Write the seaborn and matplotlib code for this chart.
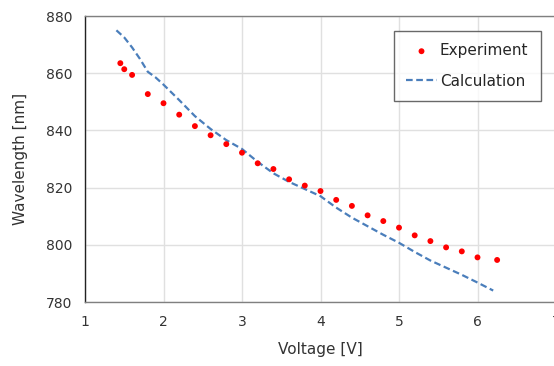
import matplotlib
matplotlib.use("Agg")
import matplotlib.pyplot as plt
import seaborn as sns
import pandas as pd

exp_voltage = [1.45, 1.5, 1.6, 1.8, 2.0, 2.2, 2.4, 2.6, 2.8, 3.0, 3.2, 3.4, 3.6, 3.8,
               4.0, 4.2, 4.4, 4.6, 4.8, 5.0, 5.2, 5.4, 5.6, 5.8, 6.0, 6.25]
exp_wavelength = [863.5, 861.4, 859.4, 852.7, 849.5, 845.5, 841.5, 838.3, 835.2, 832.2,
                  828.5, 826.5, 822.9, 820.7, 818.8, 815.7, 813.6, 810.3, 808.3, 806.0,
                  803.3, 801.3, 799.1, 797.7, 795.6, 794.7]

calc_voltage = [1.4, 1.5, 1.6, 1.7, 1.8, 1.9, 2.0, 2.2, 2.4, 2.6, 2.8, 3.0, 3.2, 3.4,
                3.6, 3.8, 4.0, 4.2, 4.4, 4.6, 4.8, 5.0, 5.2, 5.4, 5.6, 5.8, 6.0, 6.2]
calc_wavelength = [875.0, 872.5, 869.0, 865.0, 860.5, 858.5, 856.0, 850.6, 845.0, 840.5,
                   836.6, 833.5, 829.0, 825.0, 822.0, 819.5, 817.0, 813.0, 809.5, 806.5,
                   803.5, 800.7, 797.5, 794.5, 792.0, 789.5, 786.8, 784.0]

x_ticks = [1, 2, 3, 4, 5, 6, 7]
y_ticks = [780, 800, 820, 840, 860, 880]

sns.set_theme(style="white")
plt.rcParams['font.family'] = ['DejaVu Sans']

fig = plt.figure(figsize=(5.54, 3.66), dpi=100)
ax = fig.add_axes([85/554, 1 - 302/366, 471/554, 286/366])

exp_df = pd.DataFrame({"Voltage": exp_voltage, "Wavelength": exp_wavelength})
calc_df = pd.DataFrame({"Voltage": calc_voltage, "Wavelength": calc_wavelength})

sns.lineplot(data=calc_df, x="Voltage", y="Wavelength", ax=ax, color="#4a7ebb",
             linewidth=1.6, linestyle=(0, (3, 1.6)), label="Calculation", zorder=2)
sns.scatterplot(data=exp_df, x="Voltage", y="Wavelength", ax=ax, color="#ff0000",
                s=18, edgecolor="none", label="Experiment", zorder=3)

ax.set_xlim(1, 7)
ax.set_ylim(780, 880)
ax.set_xticks(x_ticks)
ax.set_yticks(y_ticks)
ax.grid(True, color="#e0e0e0", linewidth=1)
ax.set_axisbelow(True)
ax.tick_params(axis="both", length=0, labelsize=10, colors="#333333")
ax.tick_params(axis="x", pad=9)
ax.tick_params(axis="y", pad=9)
for s in ["top", "right", "bottom"]:
    ax.spines[s].set_color("#808080")
    ax.spines[s].set_linewidth(1)
ax.spines["left"].set_color("#222222")
ax.spines["left"].set_linewidth(1)

ax.set_xlabel("Voltage [V]", fontsize=11, color="#333333", labelpad=10)
ax.set_ylabel("Wavelength [nm]", fontsize=11, color="#333333", labelpad=13)

handles, labels = ax.get_legend_handles_labels()
order = [labels.index("Experiment"), labels.index("Calculation")]
leg = ax.legend([handles[i] for i in order], [labels[i] for i in order],
                loc="upper left", bbox_to_anchor=((394-85)/471, (302-31)/286),
                fontsize=11, frameon=True, fancybox=False, borderpad=0.8,
                labelspacing=1.0, handlelength=2.0, handletextpad=0.2,
                borderaxespad=0)
leg.get_frame().set_edgecolor("#444444")
leg.get_frame().set_linewidth(1)

fig.savefig("out.png", dpi=100)
